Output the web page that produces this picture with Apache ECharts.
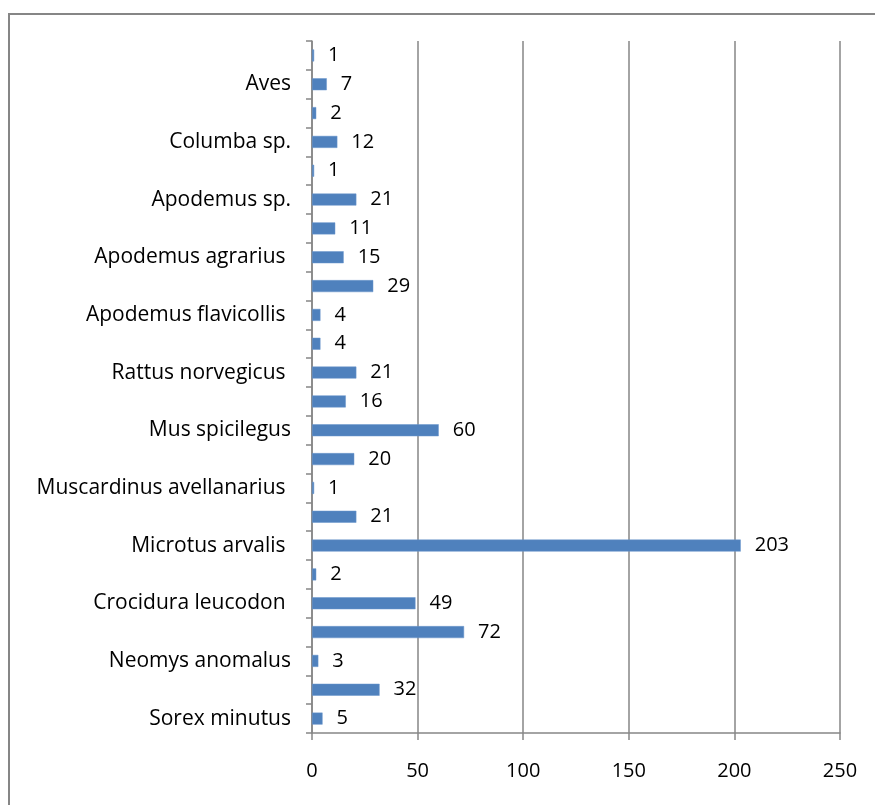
<!DOCTYPE html>
<html>
<head>
<meta charset="utf-8">
<script src="https://cdn.jsdelivr.net/npm/echarts@6/dist/echarts.min.js"></script>
<style>
  html, body { margin: 0; padding: 0; background: #fff; }
  #chart { width: 875px; height: 805px; }
</style>
</head>
<body>
<div id="chart"></div>
<script>
// Categories from bottom to top; every other label is left blank on the axis
const categories = [
  'Sorex minutus', '', 'Neomys anomalus', '', 'Crocidura leucodon ', '',
  'Microtus arvalis ', '', 'Muscardinus avellanarius ', '', 'Mus spicilegus', '',
  'Rattus norvegicus ', '', 'Apodemus flavicollis ', '', 'Apodemus agrarius ', '',
  'Apodemus sp.', '', 'Columba sp.', '', 'Aves', ''
];
const counts = [5, 32, 3, 72, 49, 2, 203, 21, 1, 20, 60, 16, 21, 4, 4, 29, 15, 11, 21, 1, 12, 2, 7, 1];
const xTicks = [0, 50, 100, 150, 200, 250];

const FONT = '"Open Sans", "DejaVu Sans", sans-serif';
const GRID_GRAY = '#868686';

const chart = echarts.init(document.getElementById('chart'));
chart.setOption({
  animation: false,
  backgroundColor: '#ffffff',
  graphic: [{
    type: 'rect',
    shape: { x: 9, y: 14, width: 1000, height: 1000 },
    style: { fill: 'none', stroke: GRID_GRAY, lineWidth: 2 },
    silent: true
  }],
  grid: { left: 312, right: 35, top: 41, bottom: 72, containLabel: false },
  xAxis: {
    type: 'value',
    min: xTicks[0],
    max: xTicks[xTicks.length - 1],
    interval: xTicks[1] - xTicks[0],
    axisLine: { show: true, lineStyle: { color: GRID_GRAY, width: 1.5 } },
    axisTick: { show: true, length: 7, lineStyle: { color: GRID_GRAY, width: 1.5 } },
    splitLine: { show: true, lineStyle: { color: GRID_GRAY, width: 1.5 } },
    axisLabel: { color: '#000', fontFamily: FONT, fontSize: 20, margin: 28 }
  },
  yAxis: {
    type: 'category',
    data: categories,
    axisLine: { show: true, lineStyle: { color: GRID_GRAY, width: 1.5 } },
    axisTick: { show: true, length: 6, alignWithLabel: false, interval: 0, lineStyle: { color: GRID_GRAY, width: 1.5 } },
    axisLabel: { interval: 0, color: '#000', fontFamily: FONT, fontSize: 21, margin: 21 },
    splitLine: { show: false }
  },
  series: [{
    type: 'bar',
    data: counts,
    barWidth: 12,
    itemStyle: { color: '#4F81BD', borderColor: '#6a96cc', borderWidth: 0.5 },
    label: {
      show: true,
      position: 'right',
      distance: 14,
      color: '#000',
      fontFamily: FONT,
      fontSize: 20
    }
  }]
});
</script>
</body>
</html>
